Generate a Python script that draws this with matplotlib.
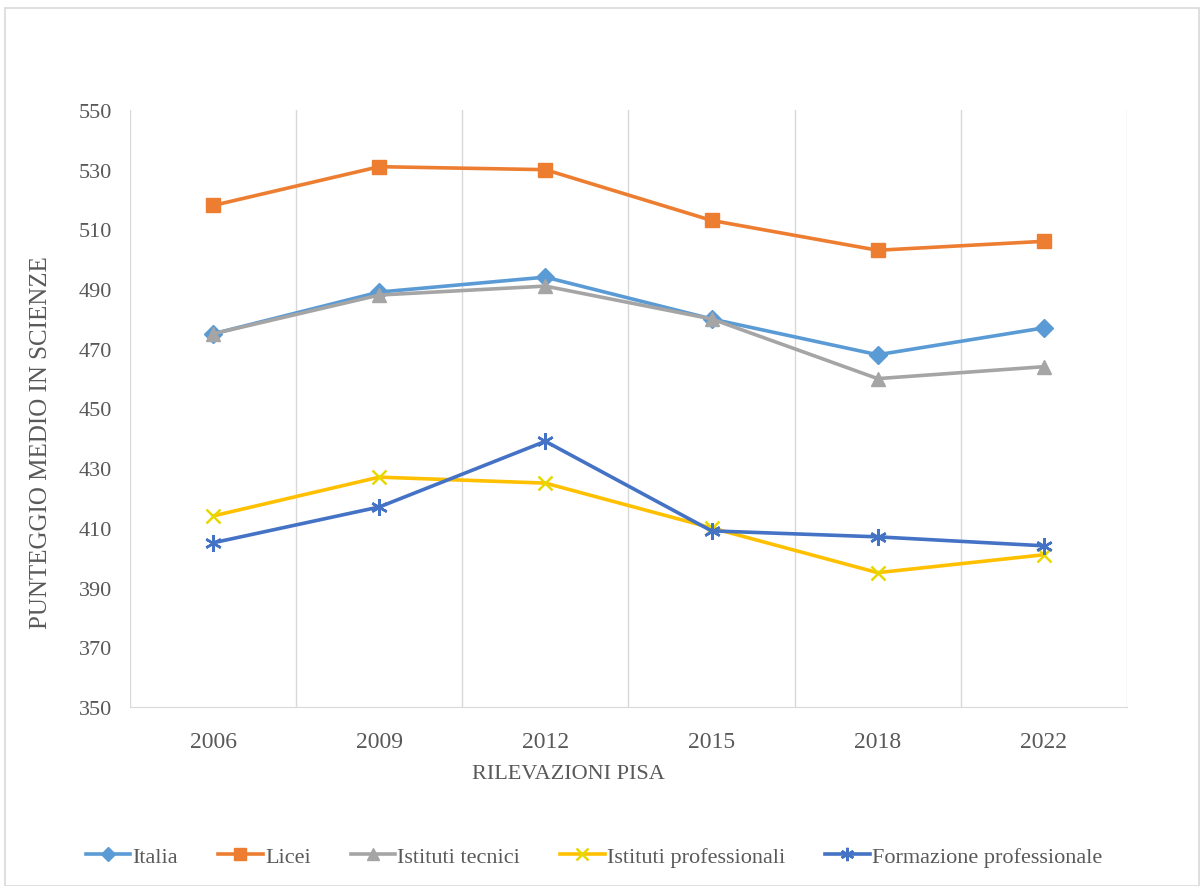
import matplotlib.pyplot as plt
from matplotlib.patches import Rectangle
import numpy as np

plt.rcParams['font.family'] = ['Liberation Serif', 'DejaVu Serif']

anni = ['2006', '2009', '2012', '2015', '2018', '2022']
italia = [475, 489, 494, 480, 468, 477]
licei = [518, 531, 530, 513, 503, 506]
tecnici = [475, 488, 491, 480, 460, 464]
professionali = [414, 427, 425, 410, 395, 401]
formazione = [405, 417, 439, 409, 407, 404]

serie = [
    ('Italia', italia, '#5B9BD5', 'D', 9),
    ('Licei', licei, '#ED7D31', 's', 10),
    ('Istituti tecnici', tecnici, '#A5A5A5', '^', 10),
    ('Istituti professionali', professionali, '#FFC000', 'x', 10),
    ('Formazione professionale', formazione, '#4472C4', (6, 2, 0), 12),
]

fig = plt.figure(figsize=(12, 8.87), dpi=100)
fig.patches.append(Rectangle((0.004, 0.0), 0.995, 0.99, transform=fig.transFigure,
                             fill=False, edgecolor='#D9D9D9', linewidth=1.2))
ax = fig.add_axes([0.1083, 0.2018, 0.8308, 0.6731])

x = np.arange(len(anni))
for nome, vals, col, mk, ms in serie:
    mec = col
    if nome == 'Istituti professionali':
        mec = '#E6D800'
    ax.plot(x, vals, color=col, linewidth=2.6, marker=mk, markersize=ms,
            markerfacecolor=col, markeredgecolor=mec, markeredgewidth=1.8 if mk in ('x', (6, 2, 0)) else 1,
            label=nome, solid_joinstyle='round')

ax.set_xlim(-0.5, len(anni) - 0.5)
ax.set_ylim(350, 550)
ax.set_yticks(range(350, 551, 20))
ax.set_xticks(x)
ax.set_xticklabels(anni)
ax.set_xticks(np.arange(-0.5, len(anni), 1), minor=True)
ax.grid(True, which='minor', axis='x', color='#D9D9D9', linewidth=1)
ax.tick_params(axis='both', which='both', length=0, labelsize=16, colors='#595959')
ax.tick_params(axis='x', pad=17)
ax.tick_params(axis='y', pad=13)
for lbl in ax.get_xticklabels():
    lbl.set_fontsize(17)
for s in ['top', 'right', 'left']:
    ax.spines[s].set_visible(False)
ax.spines['bottom'].set_color('#D9D9D9')

ax.set_ylabel('PUNTEGGIO MEDIO IN SCIENZE', fontsize=18, color='#595959')
ax.yaxis.set_label_coords(-0.078, 0.444)
fig.text(568 / 1200, 1 - 775 / 887, 'RILEVAZIONI PISA', fontsize=16, color='#595959',
         ha='center', va='center')

fig.legend(loc='center', bbox_to_anchor=(0.495, 1 - 858 / 887), ncol=5, frameon=False,
           fontsize=16, handlelength=2.0, handletextpad=0.1, columnspacing=1.8,
           labelcolor='#595959', markerscale=0.8)

fig.savefig('out.png', dpi=100, facecolor='white')
